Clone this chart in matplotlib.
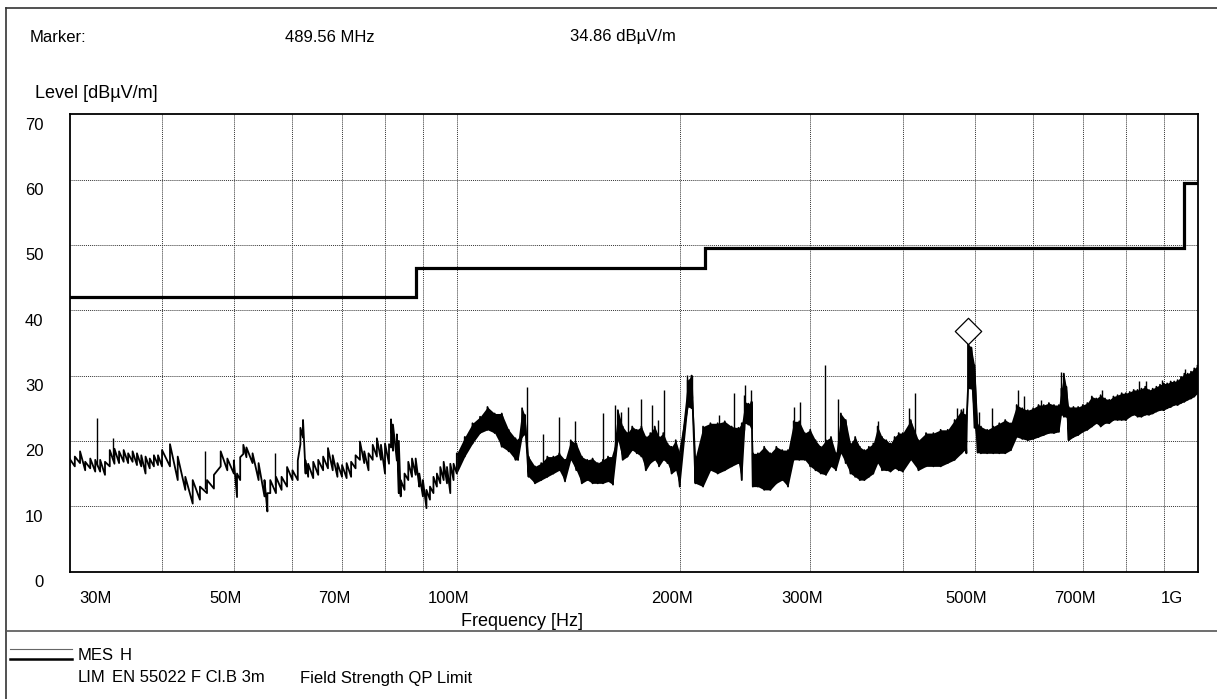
import numpy as np
import matplotlib
matplotlib.use("Agg")
import matplotlib.pyplot as plt
from matplotlib.transforms import blended_transform_factory, ScaledTranslation

# ---------------- data ----------------
FREQ_MHZ = [30, 30.5, 31, 31.5, 32, 32.5, 33, 33.5, 34, 34.5, 35, 35.5, 36, 36.5, 37, 37.5, 38, 38.5, 39, 39.5, 40,
            41, 42, 43, 44, 45, 46, 47, 48, 49, 50, 50.5, 51, 51.5, 52, 53, 54, 55, 55.5, 56, 57, 58, 59, 60,
            61, 61.5, 62, 62.5, 63, 64, 65, 66, 67, 68, 69, 70, 71, 72, 73, 74, 75, 76, 77, 78, 79, 80,
            81, 81.5, 82, 83, 83.5, 84, 85, 86, 87, 88, 89, 90, 91, 92, 93, 94, 95, 96, 97, 98, 99, 100,
            102.5, 105, 107.5, 110, 112.5, 115, 117.5, 120, 121, 122.5, 123.5, 125, 127.5, 130, 132.5, 135, 137.5,
            140, 142.5, 145, 147.5, 150, 152.5, 155, 157.5, 160, 162.5, 165, 167.5, 170, 172.5, 175, 177.5, 180,
            182.5, 185, 187.5, 190, 192.5, 195, 197.5, 200,
            205, 207.5, 210, 215, 220, 225, 230, 235, 240, 242.5, 245, 247.5, 250, 251, 255, 260, 265, 270, 275, 280,
            285, 290, 295, 300, 305, 310, 315, 320, 325, 330, 335, 340, 345, 350, 355, 360, 365, 370, 375, 380,
            385, 390, 395, 400,
            410, 420, 430, 440, 450, 460, 470, 480, 485, 487.5, 490, 495, 500, 505, 510, 520, 530, 540, 550, 560,
            570, 580, 590, 600, 610, 620, 630, 640, 650, 655, 660, 665, 670, 680, 690, 700, 710, 720, 730, 740,
            750, 760, 770, 780, 790, 800, 810, 820, 830, 840, 850, 860, 870, 880, 890, 900, 910, 920, 930, 940,
            950, 960, 970, 980, 990, 1000]

LEVEL_HI = [17.3, 17.6, 18.4, 16.8, 17.3, 17.1, 17.1, 16.8, 18.6, 18.8, 18.4, 18.6, 18.1, 18.4, 18.1, 17.8, 17.6, 17.3, 17.8, 17.8, 18.6,
            19.5, 17.6, 14.5, 14.0, 13.0, 14.0, 14.8, 18.4, 17.3, 17.0, 15.0, 17.5, 19.4, 19.0, 18.1, 16.6, 14.0, 12.0, 14.0, 14.5, 14.5, 16.0, 15.5,
            17.0, 22.0, 23.2, 17.0, 16.5, 16.8, 17.1, 17.6, 18.9, 17.8, 16.6, 16.3, 16.6, 16.8, 17.8, 19.9, 18.4, 18.1, 19.4, 20.4, 19.4, 19.6,
            19.5, 23.3, 22.5, 21.0, 20.0, 14.0, 15.0, 16.8, 17.3, 17.3, 15.0, 14.0, 12.5, 13.0, 14.5, 15.0, 16.0, 16.8, 16.0, 16.5, 16.5, 18.1,
            20.6, 22.7, 23.7, 25.2, 24.2, 24.2, 21.7, 20.4, 20.1, 25.0, 24.0, 17.6, 16.1, 16.6, 17.6, 17.6, 18.1,
            17.1, 20.1, 19.6, 17.6, 17.1, 17.3, 16.6, 17.1, 17.6, 17.6, 24.7, 22.2, 21.2, 22.2, 21.7, 22.2, 20.6,
            21.2, 22.2, 20.6, 21.2, 19.6, 19.1, 20.1, 18.1,
            29.3, 30.0, 17.6, 22.2, 22.7, 22.7, 23.0, 22.2, 22.0, 22.7, 26.0, 25.7, 26.0, 18.1, 18.1, 19.1, 18.1, 19.1, 18.6, 18.6,
            23.0, 23.0, 21.2, 21.7, 20.1, 19.1, 20.1, 20.6, 18.1, 24.2, 23.2, 19.6, 20.6, 19.1, 18.6, 19.1, 19.6, 22.2, 20.6, 20.1,
            19.6, 20.6, 21.2, 21.2,
            23.2, 20.1, 21.2, 21.2, 21.7, 21.7, 23.2, 24.7, 24.0, 22.7, 34.9, 34.3, 31.6, 22.5, 22.2, 21.7, 22.2, 22.7, 23.2, 22.7,
            25.5, 25.0, 24.7, 25.0, 25.5, 25.5, 25.8, 25.5, 25.5, 28.0, 30.3, 28.3, 25.2, 25.2, 25.2, 25.5, 25.8, 26.8, 26.5, 27.0,
            26.5, 26.3, 26.8, 27.0, 27.3, 27.3, 27.5, 27.8, 27.8, 28.0, 28.3, 27.8, 28.0, 28.3, 28.6, 28.8, 28.8, 29.1, 29.1, 29.3,
            29.8, 30.3, 30.3, 30.6, 31.1, 31.5]

LEVEL_LO = [16.3, 16.1, 16.6, 15.5, 15.8, 15.3, 15.3, 14.8, 16.1, 16.5, 16.6, 16.8, 16.6, 16.8, 16.3, 16.1, 15.0, 15.8, 16.1, 16.3, 16.1,
            16.1, 14.0, 12.5, 10.4, 11.0, 12.0, 12.7, 16.1, 15.5, 15.0, 11.4, 14.0, 18.0, 17.5, 16.6, 14.0, 11.5, 9.2, 12.0, 12.0, 12.5, 13.0, 14.0,
            14.0, 19.5, 20.5, 15.0, 14.5, 14.3, 14.8, 15.5, 15.8, 15.5, 14.5, 14.5, 14.3, 14.5, 15.8, 17.1, 16.6, 15.5, 17.1, 17.6, 17.1, 15.0,
            16.5, 19.0, 18.5, 17.0, 12.0, 11.5, 12.5, 14.0, 14.5, 14.8, 13.0, 11.5, 9.7, 11.0, 12.0, 13.0, 13.5, 14.0, 13.5, 12.0, 14.0, 15.0,
            17.6, 19.6, 21.2, 21.7, 21.2, 19.1, 18.4, 17.1, 17.1, 20.6, 21.0, 14.5, 13.5, 14.0, 14.5, 15.0, 15.5,
            13.8, 17.1, 15.5, 13.5, 14.0, 13.5, 13.5, 13.5, 13.8, 13.3, 20.1, 17.1, 17.6, 18.6, 18.1, 17.6, 15.5,
            16.6, 17.1, 16.1, 17.1, 16.6, 15.0, 15.5, 13.0,
            25.2, 25.0, 13.5, 13.0, 15.5, 15.0, 15.5, 16.1, 16.6, 14.0, 22.7, 22.5, 22.0, 13.0, 13.0, 12.5, 12.5, 13.5, 14.0, 13.0,
            17.1, 17.1, 17.1, 16.1, 15.5, 15.0, 14.8, 16.1, 15.5, 18.1, 16.6, 15.0, 14.5, 14.0, 14.0, 14.5, 15.0, 16.6, 15.5, 15.5,
            15.3, 15.8, 15.5, 15.3,
            17.1, 15.5, 16.1, 16.1, 16.1, 16.6, 17.1, 18.1, 18.6, 18.1, 28.0, 28.0, 22.0, 18.2, 18.1, 18.1, 18.1, 18.1, 18.1, 18.6,
            20.6, 20.3, 20.1, 20.3, 20.6, 20.9, 21.2, 21.2, 21.4, 24.0, 23.7, 23.7, 20.1, 20.6, 20.9, 21.4, 21.7, 22.2, 22.7, 22.2,
            22.7, 22.7, 23.2, 23.2, 23.2, 23.2, 23.7, 24.0, 23.7, 23.7, 24.0, 24.0, 24.2, 24.5, 24.7, 24.7, 25.0, 25.2, 25.5, 25.5,
            25.8, 26.0, 26.3, 26.5, 26.8, 27.3]

SPIKE_MHZ = [32.7, 34.3, 45.7, 56.9, 124.5, 130.9, 137.6, 144.2, 157.5, 163.3, 166.4, 170.5, 177.2, 183.4, 186.7,
             190.2, 204.5, 207.7, 226, 236.4, 243.9, 244.9, 249.8, 285.6, 290.9, 314.5, 326.7, 370, 408.4, 416.1,
             473.8, 482.8, 489.56, 506.8, 528.3, 572, 583, 614, 653.5, 743.8, 833.8, 851, 896.5, 961.8]
SPIKE_LEVEL = [23.5, 20.4, 18.5, 18.2, 28.3, 21.1, 23.6, 23.0, 24.2, 25.5, 24.5, 25.2, 26.4, 25.5, 23.2,
               27.8, 30.1, 30.0, 24.0, 27.3, 27.0, 28.5, 27.8, 25.2, 26.0, 31.6, 26.4, 23.0, 25.1, 27.3,
               25.1, 25.0, 34.86, 24.5, 25.0, 27.8, 26.8, 26.3, 30.5, 27.8, 29.1, 29.1, 29.3, 31.0]

LIMIT_EDGES_MHZ = [30, 88, 216, 960, 1000]
LIMIT_LEVELS = [42.0, 46.5, 49.5, 59.5]

MARKER_MHZ = 489.56
MARKER_LEVEL = 34.86

X_TICKS_MHZ = [30, 50, 70, 100, 200, 300, 500, 700, 1000]
X_TICK_LABELS = ["30M", "50M", "70M", "100M", "200M", "300M", "500M", "700M", "1G"]
X_GRID_MHZ = [40, 50, 60, 70, 80, 90, 100, 200, 300, 400, 500, 600, 700, 800, 900]
Y_TICKS = [0, 10, 20, 30, 40, 50, 60, 70]

# ---------------- figure ----------------
W, H = 1217, 699
plt.rcParams['font.family'] = ['Liberation Sans', 'DejaVu Sans']
FS_TICK = 12
FS_LAB = 13
FS_HEAD = 12
FS_LEG = 12
fig = plt.figure(figsize=(W / 100, H / 100), dpi=100)

def fx(x):
    return x / W

def fy(y):
    return 1 - y / H

L_, R_, T_, B_ = 69.5, 1197.5, 114.4, 571.5
ax = fig.add_axes([fx(L_), fy(B_), (R_ - L_) / W, (B_ - T_) / H])
ax.set_xscale('log')
ax.set_xlim(30, 1000)
ax.set_ylim(0, 70)
ax.set_xticks([])
ax.set_yticks([])
ax.minorticks_off()
ax.tick_params(which='both', length=0, labelbottom=False, labelleft=False)
for s in ax.spines.values():
    s.set_linewidth(1.3)
    s.set_color('black')

# grid
for g in X_GRID_MHZ:
    ax.axvline(g, color='#333333', lw=0.7, ls=(0, (1, 1)), zorder=1)
for v in Y_TICKS[1:-1]:
    ax.axhline(v, color='#333333', lw=0.7, ls=(0, (1, 1)), zorder=1)

# measured trace
f = np.array(FREQ_MHZ, dtype=float)
lo = np.array(LEVEL_LO)
hi = np.array(LEVEL_HI)
xs = np.repeat(f, 2)
ys = np.column_stack([lo, hi]).ravel()
ax.plot(xs, ys, color='black', lw=1.3, zorder=3)
ax.fill_between(f, lo, hi, where=f >= 100, color='black', lw=0, zorder=3, interpolate=False)
sf = np.array(SPIKE_MHZ)
base = np.interp(sf, f, (lo + hi) / 2)
ax.vlines(sf, base, SPIKE_LEVEL, color='black', lw=1.0, zorder=3)

# limit line
lx = np.array(LIMIT_EDGES_MHZ)
ly = np.array(LIMIT_LEVELS + [LIMIT_LEVELS[-1]])
ax.step(lx, ly, where='post', color='black', lw=2.3, zorder=4, solid_joinstyle='miter')

# marker diamond (bottom vertex at marker point)
off = ScaledTranslation(0, 12.5 / 100, fig.dpi_scale_trans)
ax.plot([MARKER_MHZ], [MARKER_LEVEL], marker=[(0, -1), (1, 0), (0, 1), (-1, 0), (0, -1)],
        ms=19, mfc='white', mec='black', mew=0.9, transform=ax.transData + off, zorder=5, clip_on=False)

# tick labels
bt = blended_transform_factory(ax.transData, ax.transAxes)
for i, (t, lab) in enumerate(zip(X_TICKS_MHZ, X_TICK_LABELS)):
    ha, dx = 'center', -8
    if i == 0:
        ha, dx = 'left', 10
    elif i == len(X_TICKS_MHZ) - 1:
        ha, dx = 'right', -15
    ax.annotate(lab, xy=(t, 0), xycoords=bt, xytext=(dx, -27), textcoords='offset pixels',
                ha=ha, va='center', fontsize=FS_TICK)
lt = blended_transform_factory(ax.transAxes, ax.transData)
for v in Y_TICKS:
    ax.annotate(str(v), xy=(0, v), xycoords=lt, xytext=(-26, -11), textcoords='offset pixels',
                ha='right', va='center', fontsize=FS_TICK)

# header / labels
fig.text(fx(30), fy(37), "Marker:", fontsize=FS_HEAD, va='center')
fig.text(fx(285), fy(37), "489.56 MHz", fontsize=FS_HEAD, va='center')
fig.text(fx(570), fy(37), "34.86 dB\u00b5V/m", fontsize=FS_HEAD, va='center')
fig.text(fx(35), fy(93), "Level [dB\u00b5V/m]", fontsize=FS_LAB, va='center')
fig.text(fx(583), fy(622), "Frequency [Hz]", fontsize=FS_LAB, va='center', ha='right')

# frame lines
fig.add_artist(plt.Line2D([fx(6), fx(6)], [fy(8), fy(699)], color='#333333', lw=1.2))
fig.add_artist(plt.Line2D([fx(6), 1.0], [fy(8), fy(8)], color='#333333', lw=1.2))
fig.add_artist(plt.Line2D([fx(6), 1.0], [fy(631), fy(631)], color='#555555', lw=1.2))

# legend
fig.add_artist(plt.Line2D([fx(10), fx(72)], [fy(649), fy(649)], color='#666666', lw=0.8))
fig.add_artist(plt.Line2D([fx(10), fx(72)], [fy(659), fy(659)], color='black', lw=1.8))
fig.text(fx(78), fy(656), "MES", fontsize=FS_LEG, va='center')
fig.text(fx(120), fy(656), "H", fontsize=FS_LEG, va='center')
fig.text(fx(78), fy(678), "LIM", fontsize=FS_LEG, va='center')
fig.text(fx(112), fy(678), "EN 55022 F Cl.B 3m", fontsize=FS_LEG, va='center')
fig.text(fx(300), fy(678), "Field Strength QP Limit", fontsize=FS_LEG, va='center')

fig.savefig("out.png", dpi=100)
